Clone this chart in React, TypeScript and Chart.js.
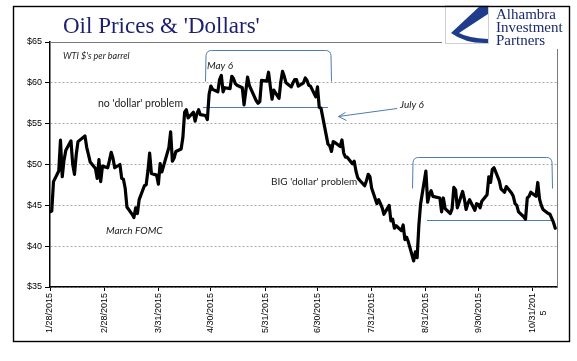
import React, { useEffect, useRef } from "react";
import { Chart, registerables } from "chart.js";

Chart.register(...registerables);

// ---- data (WTI $ per barrel, 2015 trading days) ----
const YEAR = 2015;
const tradeDates: string[] = [
  "01-28", "01-29", "01-30",
  "02-02", "02-03", "02-04", "02-05", "02-06", "02-09", "02-10", "02-11", "02-12", "02-13", "02-17", "02-18", "02-19", "02-20", "02-23", "02-24", "02-25", "02-26", "02-27",
  "03-02", "03-03", "03-04", "03-05", "03-06", "03-09", "03-10", "03-11", "03-12", "03-13", "03-16", "03-17", "03-18", "03-19", "03-20", "03-23", "03-24", "03-25", "03-26", "03-27", "03-30", "03-31",
  "04-01", "04-02", "04-06", "04-07", "04-08", "04-09", "04-10", "04-13", "04-14", "04-15", "04-16", "04-17", "04-20", "04-21", "04-22", "04-23", "04-24", "04-27", "04-28", "04-29", "04-30",
  "05-01", "05-04", "05-05", "05-06", "05-07", "05-08", "05-11", "05-12", "05-13", "05-14", "05-15", "05-18", "05-19", "05-20", "05-21", "05-22", "05-26", "05-27", "05-28", "05-29",
  "06-01", "06-02", "06-03", "06-04", "06-05", "06-08", "06-09", "06-10", "06-11", "06-12", "06-15", "06-16", "06-17", "06-18", "06-19", "06-22", "06-23", "06-24", "06-25", "06-26", "06-29", "06-30",
  "07-01", "07-02", "07-06", "07-07", "07-08", "07-09", "07-10", "07-13", "07-14", "07-15", "07-16", "07-17", "07-20", "07-21", "07-22", "07-23", "07-24", "07-27", "07-28", "07-29", "07-30", "07-31",
  "08-03", "08-04", "08-05", "08-06", "08-07", "08-10", "08-11", "08-12", "08-13", "08-14", "08-17", "08-18", "08-19", "08-20", "08-21", "08-24", "08-25", "08-26", "08-27", "08-28", "08-31",
  "09-01", "09-02", "09-03", "09-04", "09-08", "09-09", "09-10", "09-11", "09-14", "09-15", "09-16", "09-17", "09-18", "09-21", "09-22", "09-23", "09-24", "09-25", "09-28", "09-29", "09-30",
  "10-01", "10-02", "10-05", "10-06", "10-07", "10-08", "10-09", "10-12", "10-13", "10-14", "10-15", "10-16", "10-19", "10-20", "10-21", "10-22", "10-23", "10-26", "10-27", "10-28", "10-29", "10-30",
  "11-02", "11-03", "11-04", "11-05", "11-06", "11-09", "11-10", "11-11", "11-12", "11-13",
];
const wtiPrices: number[] = [
  44.2, 44.3, 47.9,
  49.2, 53.0, 48.5, 50.5, 51.7, 52.9, 50.0, 48.8, 51.2, 52.8, 53.5, 52.1, 51.2, 50.3, 49.5, 48.3, 50.6, 47.9, 49.8,
  49.6, 50.5, 51.5, 50.8, 49.6, 50.0, 48.3, 48.2, 47.1, 44.8, 43.9, 43.5, 44.7, 44.0, 45.7, 47.4, 47.5, 49.2, 51.4, 48.9, 48.7, 47.6,
  50.1, 49.1, 52.1, 54.0, 50.4, 50.8, 51.6, 51.9, 53.3, 56.4, 56.7, 55.7, 56.4, 55.3, 56.2, 56.7, 56.1, 56.0, 55.5, 58.6, 59.6,
  59.2, 58.9, 60.4, 60.9, 58.9, 59.4, 59.3, 60.8, 60.5, 59.9, 59.7, 59.4, 57.3, 59.0, 60.7, 59.7, 57.8, 57.5, 57.7, 60.3,
  60.2, 61.3, 59.6, 58.0, 59.1, 58.1, 60.1, 61.4, 60.8, 60.0, 59.5, 60.0, 60.4, 60.4, 59.6, 60.0, 60.6, 60.3, 59.7, 59.6, 58.3, 59.5,
  57.0, 56.9, 52.5, 52.3, 51.6, 52.8, 52.7, 52.2, 53.0, 51.4, 50.9, 50.9, 50.1, 50.4, 49.2, 48.4, 48.1, 47.4, 48.0, 48.8, 48.5, 47.1,
  45.2, 45.7, 45.2, 44.7, 43.9, 45.0, 43.1, 43.3, 42.2, 42.5, 41.9, 42.6, 40.8, 41.1, 40.5, 38.2, 39.3, 38.6, 42.6, 45.2, 49.2,
  45.4, 46.3, 46.8, 46.1, 45.9, 44.2, 45.9, 44.6, 44.0, 44.6, 47.2, 46.9, 44.7, 46.7, 45.8, 44.5, 45.2, 45.7, 44.4, 45.2, 45.1,
  44.7, 45.5, 46.3, 48.5, 47.8, 49.4, 49.6, 48.0, 47.0, 46.8, 46.6, 47.3, 46.5, 46.1, 45.2, 45.0, 44.2, 43.6, 43.3, 45.9, 46.1, 46.6,
  46.1, 47.8, 45.8, 45.0, 44.5, 44.0, 43.9, 43.4, 42.9, 42.2,
];
const tickDates: string[] = ["01-28", "02-28", "03-31", "04-30", "05-31", "06-30", "07-31", "08-31", "09-30", "10-31"];
const tickLabels: (string | string[])[] = [
  "1/28/2015", "2/28/2015", "3/31/2015", "4/30/2015", "5/31/2015",
  "6/30/2015", "7/31/2015", "8/31/2015", "9/30/2015", ["10/31/201", "5       "],
];
const yTicks = { min: 35, max: 65, step: 5 };
const xEndDate = "11-14";

const dayOf = (s: string) => {
  const [m, d] = s.split("-").map(Number);
  return (Date.UTC(YEAR, m - 1, d) - Date.UTC(YEAR, 0, 28)) / 86400000;
};

const decoPlugin = {
  id: "deco",
  beforeDatasetsDraw(chart: any) {
    const ctx = chart.ctx as CanvasRenderingContext2D;
    const { left, right, top, bottom } = chart.chartArea;
    ctx.save();
    // plot border (top/right)
    ctx.strokeStyle = "#7a7a7a";
    ctx.lineWidth = 1;
    ctx.beginPath();
    ctx.moveTo(left, top + 0.5);
    ctx.lineTo(right + 0.5, top + 0.5);
    ctx.lineTo(right + 0.5, bottom);
    ctx.stroke();

    ctx.strokeStyle = "#4f7bb0";
    ctx.lineWidth = 1;
    const bracket = (x1: number, x2: number, yt: number, yb: number) => {
      const r = 5;
      ctx.beginPath();
      ctx.moveTo(x1, yb);
      ctx.lineTo(x1 + 0.5, yt + r);
      ctx.quadraticCurveTo(x1 + 1, yt, x1 + r + 1, yt);
      ctx.lineTo(x2 - r - 1, yt);
      ctx.quadraticCurveTo(x2 - 1, yt, x2 - 0.5, yt + r);
      ctx.lineTo(x2, yb);
      ctx.stroke();
    };
    bracket(205.5, 331.5, 50.5, 81.5);
    bracket(412.5, 552.5, 157.5, 188.5);
    ctx.beginPath();
    ctx.moveTo(203, 107.5);
    ctx.lineTo(328, 107.5);
    ctx.moveTo(427, 220.5);
    ctx.lineTo(553, 220.5);
    // arrow
    ctx.moveTo(397, 108.5);
    ctx.lineTo(338.5, 116.5);
    ctx.moveTo(345.5, 112.5);
    ctx.lineTo(338.5, 116.5);
    ctx.lineTo(346.5, 120.5);
    ctx.stroke();
    ctx.restore();
  },
  afterDraw(chart: any) {
    const ctx = chart.ctx as CanvasRenderingContext2D;
    ctx.save();
    // annotation texts
    ctx.fillStyle = "#1a1a1a";
    ctx.textBaseline = "middle";
    ctx.textAlign = "left";
    ctx.font = "italic 9px Lato";
    ctx.fillText("WTI $'s per barrel", 63, 56);
    ctx.font = "italic 10px Lato";
    ctx.fillText("May 6", 207, 66);
    ctx.fillText("July 6", 400, 105);
    ctx.fillText("March FOMC", 106, 231);
    ctx.font = "10.5px Lato";
    ctx.fillText("no 'dollar' problem", 98, 104);
    ctx.font = "10px Lato";
    ctx.fillText("BIG 'dollar' problem", 271, 182);

    // title
    ctx.fillStyle = "#1b1f6e";
    ctx.textBaseline = "alphabetic";
    ctx.font = '23px "Liberation Serif"';
    ctx.fillText("Oil Prices & 'Dollars'", 63, 33);

    // logo background
    ctx.fillStyle = "#ffffff";
    ctx.fillRect(442, 7, 118, 42);
    // logo box
    ctx.strokeStyle = "#d0d0d0";
    ctx.lineWidth = 1;
    ctx.strokeRect(445.5, 5.5, 43, 38);
    ctx.fillStyle = "#1f3c8c";
    ctx.beginPath();
    ctx.moveTo(488, 6);
    ctx.lineTo(480, 6);
    ctx.lineTo(451, 33);
    ctx.quadraticCurveTo(466, 44, 488, 43);
    ctx.lineTo(488, 39);
    ctx.quadraticCurveTo(468, 38, 459, 33);
    ctx.lineTo(488, 14);
    ctx.closePath();
    ctx.fill();
    ctx.fillStyle = "#1b2a6e";
    ctx.font = '15px "Liberation Serif"';
    ctx.fillText("Alhambra", 496, 19);
    ctx.fillText("Investment", 496, 32);
    ctx.fillText("Partners", 496, 45);

    // outer frame
    ctx.strokeStyle = "#000";
    ctx.lineWidth = 1.4;
    ctx.strokeRect(13.5, 6.5, 556, 335);
    ctx.restore();
  },
};

export default function App() {
  const ref = useRef<HTMLCanvasElement>(null);
  useEffect(() => {
    document.body.style.margin = "0";
    const points = tradeDates.map((d, i) => ({ x: dayOf(d), y: wtiPrices[i] }));
    const tickDays = tickDates.map(dayOf);
    const chart = new Chart(ref.current!, {
      type: "line",
      data: {
        datasets: [
          {
            data: points,
            borderColor: "#000",
            borderWidth: 3.2,
            pointRadius: 0,
            tension: 0,
            borderJoinStyle: "round",
            borderCapStyle: "round",
          },
        ],
      },
      options: {
        animation: false,
        responsive: false,
        devicePixelRatio: 1,
        layout: { padding: { left: 0, top: 42, right: 20, bottom: 0 } },
        plugins: { legend: { display: false }, tooltip: { enabled: false }, title: { display: false } },
        scales: {
          x: {
            type: "linear",
            min: 0,
            max: dayOf(xEndDate),
            afterBuildTicks: (scale: any) => {
              scale.ticks = tickDays.map((v) => ({ value: v }));
            },
            afterFit: (scale: any) => {
              scale.height = 74;
            },
            ticks: {
              autoSkip: false,
              minRotation: 90,
              maxRotation: 90,
              padding: 2,
              color: "#000",
              font: { family: "Liberation Sans", size: 9 },
              callback: (v: any) => {
                const i = tickDays.indexOf(Number(v));
                return i >= 0 ? tickLabels[i] : "";
              },
            },
            grid: { drawOnChartArea: false, tickLength: 4, color: "#000", tickColor: "#000" },
            border: { color: "#000", width: 1.5 },
          },
          y: {
            min: yTicks.min,
            max: yTicks.max,
            afterFit: (scale: any) => {
              scale.width = 50;
            },
            ticks: {
              stepSize: yTicks.step,
              padding: 3,
              color: "#000",
              font: { family: "Liberation Sans", size: 9 },
              callback: (v: any) => "$" + v,
            },
            grid: { color: "#a8a8a8", tickColor: "#000", tickLength: 5, lineWidth: 1 },
            border: { color: "#000", width: 1.5, dash: [2, 2] },
          },
        },
      },
      plugins: [decoPlugin],
    } as any);
    return () => chart.destroy();
  }, []);
  return <canvas ref={ref} width={577} height={361} style={{ display: "block" }} />;
}
